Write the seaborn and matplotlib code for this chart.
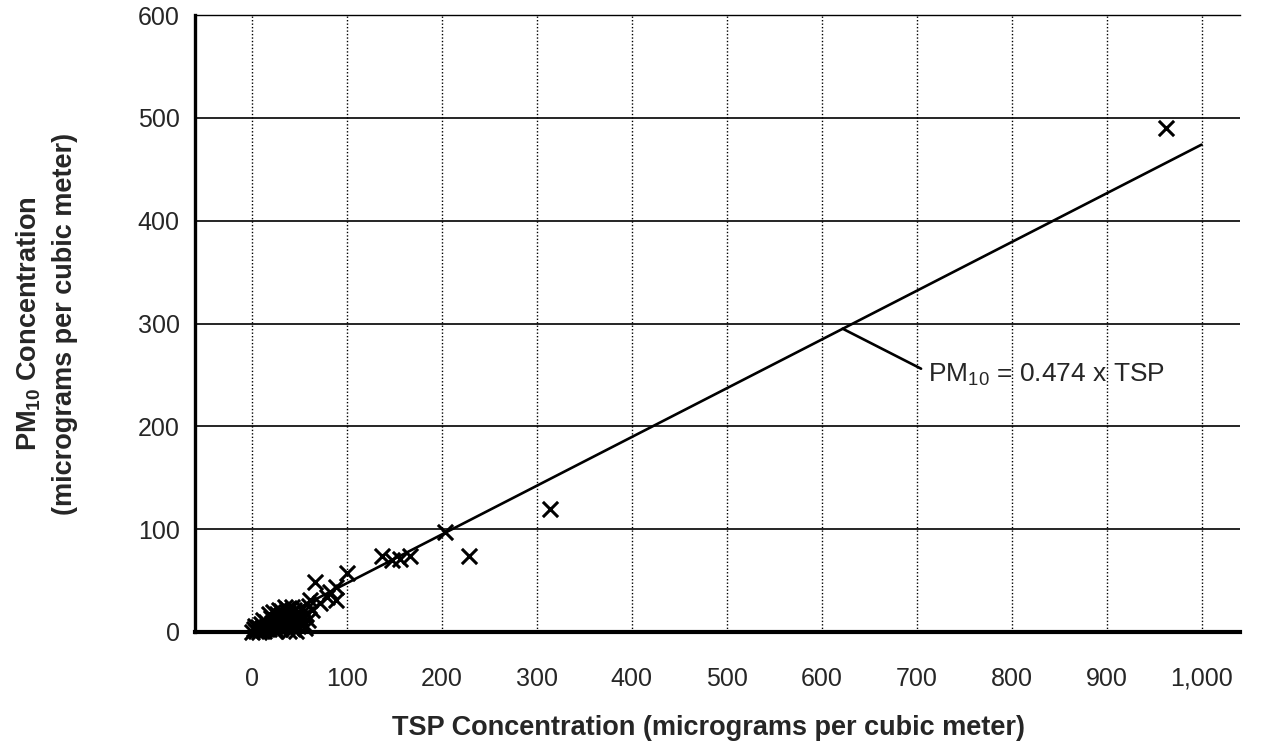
import matplotlib
matplotlib.use("Agg")
import matplotlib.pyplot as plt
import seaborn as sns
import pandas as pd

# TSP vs PM10 readings (micrograms per cubic meter)
tsp = [0, 2, 4, 6, 8, 10, 11, 13, 15, 16, 18, 20, 21, 23, 24, 26, 27, 29, 30,
       31, 33, 34, 36, 37, 38, 40, 41, 43, 44, 45, 47, 49, 50, 52, 54, 56, 57,
       59, 28, 35, 42, 12, 18, 25, 32, 46, 53, 60, 3, 7, 14, 22, 39,
       61, 63, 66, 72, 79, 82, 89, 89, 100, 137, 147, 156, 166, 203, 229, 314, 963]
pm10 = [0, 3, 1, 5, 2, 8, 4, 1, 10, 6, 3, 14, 9, 5, 1, 17, 12, 7, 3,
        20, 15, 10, 5, 22, 18, 13, 8, 3, 21, 16, 11, 6, 19, 14, 9, 4, 17,
        12, 21, 24, 24, 12, 17, 2, 8, 1, 23, 25, 6, 0, 4, 19, 1,
        31, 21, 49, 28, 34, 39, 31, 44, 57, 74, 70, 71, 74, 97, 74, 120, 490]

# fitted line PM10 = 0.474 x TSP
fit_tsp = [0, 1000]
fit_pm10 = [0, 474]

x_ticks = [0, 100, 200, 300, 400, 500, 600, 700, 800, 900, 1000]
x_tick_labels = ["0", "100", "200", "300", "400", "500", "600", "700", "800", "900", "1,000"]
y_ticks = [0, 100, 200, 300, 400, 500, 600]

sns.set_style("white")
plt.rcParams["font.family"] = ["Liberation Sans", "DejaVu Sans"]
plt.rcParams["mathtext.fontset"] = "custom"
plt.rcParams["mathtext.rm"] = "Liberation Sans"
plt.rcParams["mathtext.bf"] = "Liberation Sans:bold"

df = pd.DataFrame({"TSP": tsp, "PM10": pm10})
line_df = pd.DataFrame({"TSP": fit_tsp, "PM10": fit_pm10})

fig = plt.figure(figsize=(12.7, 7.55), dpi=100)
ax = fig.add_axes([0.1535, 0.163, 0.8225, 0.817])

# grid: solid horizontals, dotted verticals
for y in y_ticks[1:-1]:
    ax.axhline(y, color="black", lw=1.2, zorder=1)
for x in x_ticks:
    ax.axvline(x, color="black", lw=1.0, ls=(0, (1, 1.5)), zorder=1)

sns.lineplot(data=line_df, x="TSP", y="PM10", ax=ax, color="black", lw=1.9, zorder=3)
sns.scatterplot(data=df, x="TSP", y="PM10", ax=ax, marker="x", s=120,
                color="black", linewidth=2.2, zorder=4, clip_on=False)

ax.annotate(r"PM$_{10}$ = 0.474 x TSP", xy=(622, 295), xytext=(712, 250),
            fontsize=19, ha="left", va="center",
            arrowprops=dict(arrowstyle="-", color="black", lw=1.9,
                            relpos=(0, 0.6), shrinkA=3, shrinkB=0))

ax.set_xlim(-60, 1040)
ax.set_ylim(0, 600)
ax.set_xticks(x_ticks)
ax.set_xticklabels(x_tick_labels)
ax.set_yticks(y_ticks)
ax.tick_params(axis="x", length=0, pad=25, labelsize=18)
ax.tick_params(axis="y", length=0, pad=11, labelsize=18)

for side in ["left", "bottom", "top", "right"]:
    ax.spines[side].set_color("black")
ax.spines["left"].set_linewidth(2.4)
ax.spines["bottom"].set_linewidth(3.0)
ax.spines["top"].set_linewidth(1.0)
ax.spines["right"].set_visible(False)

ax.set_xlabel("TSP Concentration (micrograms per cubic meter)",
              fontsize=19.5, fontweight="bold", va="center")
ax.xaxis.set_label_coords(0.492, -0.156)
ax.set_ylabel("PM$_{\\mathbf{10}}$ Concentration\n(micrograms per cubic meter)",
              fontsize=19.5, fontweight="bold", va="center", linespacing=1.45)
ax.yaxis.set_label_coords(-0.142, 0.5)

fig.savefig("out.png", dpi=100)
